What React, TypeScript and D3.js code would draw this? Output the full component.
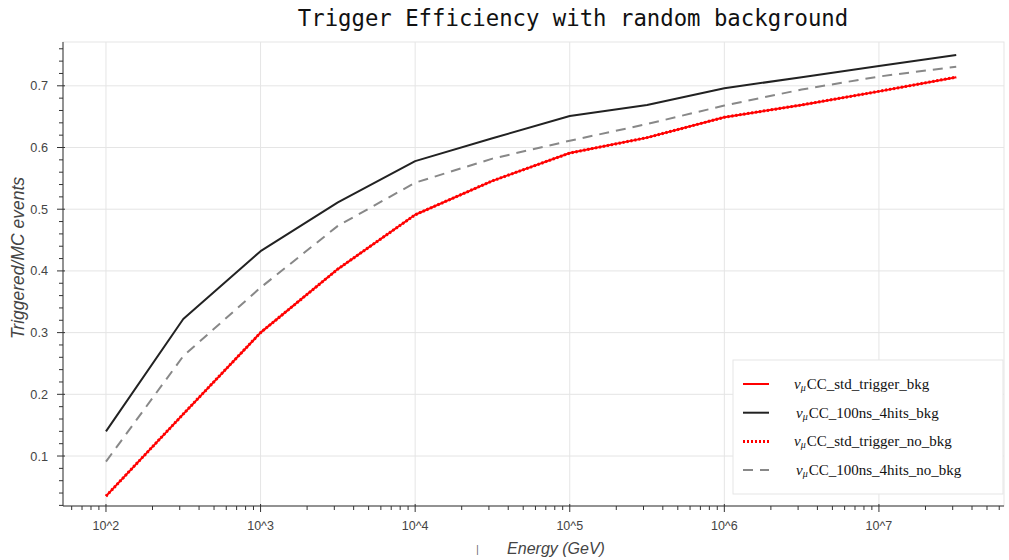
import { useEffect, useRef } from 'react';
import * as d3 from 'd3';

// energies in GeV (half-decade steps)
const energies = [1e2, 3.162e2, 1e3, 3.162e3, 1e4, 3.162e4, 1e5, 3.162e5, 1e6, 3.162e6, 1e7, 3.162e7];

const stdTriggerBkg = [0.035, 0.168, 0.3, 0.403, 0.491, 0.546, 0.591, 0.616, 0.649, 0.669, 0.691, 0.714];
const hits100nsBkg = [0.14, 0.322, 0.432, 0.511, 0.578, 0.615, 0.651, 0.669, 0.696, 0.714, 0.732, 0.75];
const stdTriggerNoBkg = [0.035, 0.168, 0.3, 0.403, 0.491, 0.546, 0.591, 0.616, 0.649, 0.669, 0.691, 0.714];
const hits100nsNoBkg = [0.091, 0.262, 0.373, 0.473, 0.543, 0.582, 0.611, 0.638, 0.668, 0.694, 0.715, 0.731];

const seriesNames = ['CC_std_trigger_bkg', 'CC_100ns_4hits_bkg', 'CC_std_trigger_no_bkg', 'CC_100ns_4hits_no_bkg'];

const xMajorTicks = [1e2, 1e3, 1e4, 1e5, 1e6, 1e7];
const yTicks = [0.1, 0.2, 0.3, 0.4, 0.5, 0.6, 0.7];

export default function App() {
    const svgRef = useRef<SVGSVGElement>(null);

    useEffect(() => {
        const width = 1009;
        const height = 560;
        const margin = { top: 42, right: 5, bottom: 54, left: 63 };
        const innerWidth = width - margin.left - margin.right;
        const innerHeight = height - margin.top - margin.bottom;

        const svg = d3.select(svgRef.current);
        svg.selectAll('*').remove();
        svg.attr('width', width).attr('height', height);

        svg.append('rect').attr('width', width).attr('height', height).attr('fill', '#fff');

        const g = svg.append('g').attr('transform', `translate(${margin.left},${margin.top})`);

        const x = d3
            .scaleLog()
            .domain([Math.pow(10, 1.722), Math.pow(10, 7.809)])
            .range([0, innerWidth]);
        const y = d3.scaleLinear().domain([0.019, 0.771]).range([innerHeight, 0]);

        // outline + grid
        g.append('rect')
            .attr('width', innerWidth)
            .attr('height', innerHeight)
            .attr('fill', 'none')
            .attr('stroke', '#e5e5e5');

        g.selectAll('.xgrid')
            .data(xMajorTicks)
            .enter()
            .append('line')
            .attr('x1', (d) => x(d))
            .attr('x2', (d) => x(d))
            .attr('y1', 0)
            .attr('y2', innerHeight)
            .attr('stroke', '#e5e5e5');

        g.selectAll('.ygrid')
            .data(yTicks)
            .enter()
            .append('line')
            .attr('x1', 0)
            .attr('x2', innerWidth)
            .attr('y1', (d) => y(d))
            .attr('y2', (d) => y(d))
            .attr('stroke', '#e5e5e5');

        // series
        const series = [
            { name: seriesNames[0], values: stdTriggerBkg, color: 'red', dash: null, w: 2 },
            { name: seriesNames[1], values: hits100nsBkg, color: '#222', dash: null, w: 2 },
            { name: seriesNames[2], values: stdTriggerNoBkg, color: 'red', dash: '2,2', w: 3 },
            { name: seriesNames[3], values: hits100nsNoBkg, color: '#888', dash: '10,7', w: 2 },
        ];

        const line = d3
            .line<number>()
            .x((_, i) => x(energies[i]))
            .y((d) => y(d));

        series.forEach((s) => {
            g.append('path')
                .attr('d', line(s.values))
                .attr('fill', 'none')
                .attr('stroke', s.color)
                .attr('stroke-width', s.w)
                .attr('stroke-dasharray', s.dash)
                .attr('stroke-linejoin', 'round');
        });

        // axes
        const axisColor = '#333';
        const labelFont = '"Liberation Sans", Arial, sans-serif';

        const xAxis = g.append('g').attr('transform', `translate(0,${innerHeight})`);
        xAxis.append('line').attr('x1', 0).attr('x2', innerWidth).attr('stroke', axisColor);

        const [lo, hi] = x.domain();
        const xMinor: number[] = [];
        for (let e = 1; e <= 7; e++) {
            for (let k = 2; k <= 9; k++) {
                const v = k * Math.pow(10, e);
                if (v > lo && v < hi) xMinor.push(v);
            }
        }
        xAxis.selectAll('.minor')
            .data(xMinor)
            .enter()
            .append('line')
            .attr('x1', (d) => x(d))
            .attr('x2', (d) => x(d))
            .attr('y1', 0)
            .attr('y2', 4)
            .attr('stroke', axisColor);
        xAxis.selectAll('.major')
            .data(xMajorTicks)
            .enter()
            .append('line')
            .attr('x1', (d) => x(d))
            .attr('x2', (d) => x(d))
            .attr('y1', -2)
            .attr('y2', 6)
            .attr('stroke', axisColor);
        xAxis.selectAll('.label')
            .data(xMajorTicks)
            .enter()
            .append('text')
            .attr('x', (d) => x(d))
            .attr('y', 24)
            .attr('text-anchor', 'middle')
            .style('font-family', labelFont)
            .style('font-size', '12.5px')
            .style('fill', '#444')
            .text((d) => `10^${Math.round(Math.log10(d))}`);

        const yAxis = g.append('g');
        yAxis.append('line').attr('y1', 0).attr('y2', innerHeight).attr('stroke', axisColor);
        const yMinor = d3.range(0.02, 0.771, 0.02).filter((v) => Math.abs(v * 10 - Math.round(v * 10)) > 1e-6);
        yAxis.selectAll('.minor')
            .data(yMinor)
            .enter()
            .append('line')
            .attr('x1', -4)
            .attr('x2', 0)
            .attr('y1', (d) => y(d))
            .attr('y2', (d) => y(d))
            .attr('stroke', axisColor);
        yAxis.selectAll('.major')
            .data(yTicks)
            .enter()
            .append('line')
            .attr('x1', -6)
            .attr('x2', 2)
            .attr('y1', (d) => y(d))
            .attr('y2', (d) => y(d))
            .attr('stroke', axisColor);
        yAxis.selectAll('.label')
            .data(yTicks)
            .enter()
            .append('text')
            .attr('x', -15)
            .attr('y', (d) => y(d) + 4.5)
            .attr('text-anchor', 'end')
            .style('font-family', labelFont)
            .style('font-size', '12.7px')
            .style('fill', '#444')
            .text((d) => d.toFixed(1));

        // axis titles
        svg.append('text')
            .attr('x', 556)
            .attr('y', 554)
            .attr('text-anchor', 'middle')
            .style('font-family', labelFont)
            .style('font-style', 'italic')
            .style('font-size', '16px')
            .style('fill', '#444')
            .text('Energy (GeV)');
        svg.append('text')
            .attr('x', 476)
            .attr('y', 553)
            .style('font-family', labelFont)
            .style('font-style', 'italic')
            .style('font-size', '10px')
            .style('fill', '#666')
            .text('|');
        svg.append('text')
            .attr('transform', 'translate(24,258) rotate(-90)')
            .attr('text-anchor', 'middle')
            .style('font-family', labelFont)
            .style('font-style', 'italic')
            .style('font-size', '17.5px')
            .style('fill', '#444')
            .text('Triggered/MC events');

        // title
        svg.append('text')
            .attr('x', 573)
            .attr('y', 26)
            .attr('text-anchor', 'middle')
            .style('font-family', '"DejaVu Sans Mono", monospace')
            .style('font-size', '22.3px')
            .style('fill', '#111')
            .text('Trigger Efficiency with random background');

        // legend
        const legend = svg.append('g').attr('transform', 'translate(733,360)');
        legend.append('rect')
            .attr('width', 270)
            .attr('height', 134)
            .attr('fill', '#fff')
            .attr('stroke', '#e5e5e5');
        series.forEach((s, i) => {
            const ly = 24 + i * 28.7;
            legend.append('line')
                .attr('x1', 10)
                .attr('x2', 36)
                .attr('y1', ly)
                .attr('y2', ly)
                .attr('stroke', s.color)
                .attr('stroke-width', s.w)
                .attr('stroke-dasharray', s.dash);
            const t = legend.append('text')
                .attr('x', i % 2 === 1 ? 63 : 61)
                .attr('y', ly + 5)
                .style('font-family', '"Liberation Serif", "Times New Roman", serif')
                .style('font-size', '15px')
                .style('fill', '#111');
            t.append('tspan').style('font-style', 'italic').style('font-size', '15px').text('ν');
            t.append('tspan').style('font-style', 'italic').style('font-size', '10px').attr('dy', 2).text('μ');
            t.append('tspan').attr('dy', -2).attr('dx', 1).text(s.name);
        });
    }, []);

    return (
        <div>
            <style>{`body{margin:0}`}</style>
            <svg ref={svgRef}></svg>
        </div>
    );
}
